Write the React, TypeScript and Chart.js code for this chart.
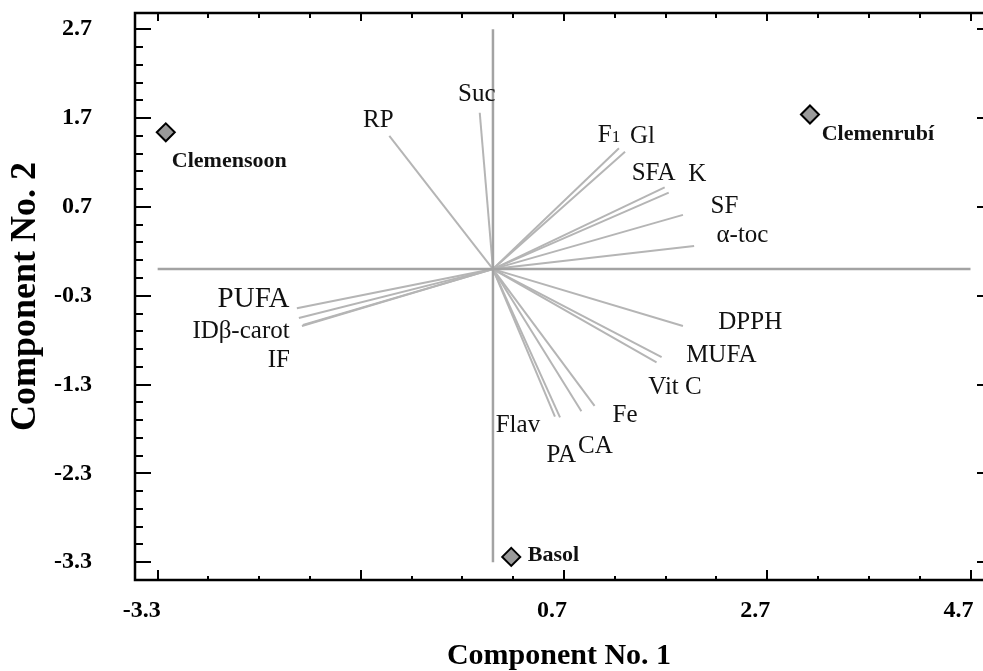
import React, { useEffect, useRef } from "react";
import { Chart, registerables } from "chart.js";

Chart.register(...registerables);

// ---------- data ----------
const variableNames = [
  "RP", "Suc", "F1", "Gl", "SFA", "K", "SF", "α-toc",
  "DPPH", "MUFA", "Vit C", "Fe", "CA", "PA", "Flav",
  "PUFA", "ID", "β-carot", "IF",
];
const loadingsX = [
  -1.02, -0.13, 1.24, 1.3, 1.69, 1.73, 1.87, 1.98,
  1.87, 1.66, 1.61, 1.0, 0.87, 0.66, 0.61,
  -1.93, -1.91, -1.87, -1.88,
];
const loadingsY = [
  1.5, 1.76, 1.36, 1.32, 0.92, 0.86, 0.61, 0.26,
  -0.64, -0.99, -1.05, -1.54, -1.6, -1.67, -1.66,
  -0.44, -0.55, -0.63, -0.64,
];

const sampleNames = ["Clemensoon", "Clemenrubí", "Basol"];
const sampleX = [-3.22, 3.12, 0.18];
const sampleY = [1.54, 1.74, -3.24];

const xTickValues = [-3.3, -1.3, 0.7, 2.7, 4.7];
const xTickLabels = ["-3.3", "", "0.7", "2.7", "4.7"];
const yTickValues = [-3.3, -2.3, -1.3, -0.3, 0.7, 1.7, 2.7];
const yTickLabels = ["-3.3", "-2.3", "-1.3", "-0.3", "0.7", "1.7", "2.7"];
const xMinorStep = 0.5;
const yMinorStep = 0.2;

const refLineXExtent = [-3.3, 4.7]; // horizontal line at y = 0
const refLineYExtent = [-3.3, 2.7]; // vertical line at x = 0

const X_MIN = -3.523;
const X_MAX = 4.823;
const Y_MIN = -3.5;
const Y_MAX = 2.883;

// ---------- label layout (pixel offsets from the anchor, baseline) ----------
type LabelLayout = { dx: number; dy: number; align: CanvasTextAlign; size?: number; smallTail?: number };
const variableLabelLayout: LabelLayout[] = [
  { dx: -11, dy: -9, align: "center" }, // RP
  { dx: -3, dy: -12, align: "center" }, // Suc
  { dx: -10, dy: -6, align: "center", smallTail: 17 }, // F1
  { dx: 17.5, dy: -8.4, align: "center" }, // Gl
  { dx: -11, dy: -7, align: "center" }, // SFA
  { dx: 28.5, dy: -11.3, align: "center" }, // K
  { dx: 41.5, dy: -2.3, align: "center" }, // SF
  { dx: 48.3, dy: -4, align: "center" }, // α-toc
  { dx: 67.3, dy: 2.6, align: "center" }, // DPPH
  { dx: 59.7, dy: 5, align: "center" }, // MUFA
  { dx: 18.5, dy: 31.6, align: "center" }, // Vit C
  { dx: 30.5, dy: 16, align: "center" }, // Fe
  { dx: 14, dy: 41.7, align: "center" }, // CA
  { dx: 1.3, dy: 44.4, align: "center" }, // PA
  { dx: -37, dy: 15.6, align: "center" }, // Flav
  { dx: -7.3, dy: -1.6, align: "right", size: 29 }, // PUFA
  { dx: -80, dy: 20, align: "right" }, // ID
  { dx: -13.3, dy: 13.3, align: "right" }, // β-carot
  { dx: -12, dy: 40.7, align: "right" }, // IF
];
const sampleLabelLayout = [
  { dx: 6, dy: 34.4 },
  { dx: 11.7, dy: 25 },
  { dx: 16.6, dy: 4.4 },
];

const SERIF = '"Liberation Serif", "Times New Roman", serif';

const labelPlugin = {
  id: "biplotLabels",
  afterDatasetsDraw(chart: any) {
    const { ctx, scales } = chart;
    const xs = scales.x;
    const ys = scales.y;
    ctx.save();
    ctx.fillStyle = "#111";
    ctx.textBaseline = "alphabetic";
    variableNames.forEach((name, i) => {
      const L = variableLabelLayout[i];
      const px = xs.getPixelForValue(loadingsX[i]) + L.dx;
      const py = ys.getPixelForValue(loadingsY[i]) + L.dy;
      const size = L.size ?? 25;
      if (L.smallTail) {
        const head = name.slice(0, -1);
        const tail = name.slice(-1);
        ctx.font = `${size}px ${SERIF}`;
        const w1 = ctx.measureText(head).width;
        ctx.font = `${L.smallTail}px ${SERIF}`;
        const w2 = ctx.measureText(tail).width;
        const gap = 0;
        const total = w1 + w2 + gap;
        const start = L.align === "center" ? px - total / 2 : L.align === "right" ? px - total : px;
        ctx.textAlign = "left";
        ctx.font = `${size}px ${SERIF}`;
        ctx.fillText(head, start, py);
        ctx.font = `${L.smallTail}px ${SERIF}`;
        ctx.fillText(tail, start + w1 + gap, py);
      } else {
        ctx.font = `${size}px ${SERIF}`;
        ctx.textAlign = L.align;
        ctx.fillText(name, px, py);
      }
    });
    ctx.font = `bold 22px ${SERIF}`;
    ctx.textAlign = "left";
    sampleNames.forEach((name, i) => {
      const L = sampleLabelLayout[i];
      const px = xs.getPixelForValue(sampleX[i]) + L.dx;
      const py = ys.getPixelForValue(sampleY[i]) + L.dy;
      ctx.fillText(name, px, py);
    });
    ctx.restore();
  },
};

const framePlugin = {
  id: "frameTicks",
  afterDraw(chart: any) {
    const { ctx, chartArea, scales } = chart;
    const { left, right, top, bottom } = chartArea;
    const xs = scales.x;
    const ys = scales.y;
    ctx.save();
    ctx.strokeStyle = "#000";
    ctx.lineWidth = 2.5;
    ctx.lineCap = "square";
    ctx.beginPath();
    ctx.moveTo(right, top);
    ctx.lineTo(left, top);
    ctx.lineTo(left, bottom);
    ctx.lineTo(right, bottom);
    ctx.stroke();

    ctx.lineWidth = 2;
    ctx.lineCap = "butt";
    ctx.beginPath();
    const x0 = xTickValues[0];
    const x1 = xTickValues[xTickValues.length - 1];
    const nx = Math.round((x1 - x0) / xMinorStep);
    for (let k = 0; k <= nx; k++) {
      const v = x0 + k * xMinorStep;
      const major = xTickValues.some((t) => Math.abs(t - v) < 1e-6);
      const p = Math.round(xs.getPixelForValue(v));
      ctx.moveTo(p, bottom);
      ctx.lineTo(p, bottom - (major ? 10 : 4));
      ctx.moveTo(p, top);
      ctx.lineTo(p, top + (major ? 8 : 5));
    }
    const y0 = yTickValues[0];
    const y1 = yTickValues[yTickValues.length - 1];
    const ny = Math.round((y1 - y0) / yMinorStep);
    for (let k = 0; k <= ny; k++) {
      const v = y0 + k * yMinorStep;
      const major = yTickValues.some((t) => Math.abs(t - v) < 1e-6);
      const p = Math.round(ys.getPixelForValue(v));
      ctx.moveTo(left, p);
      ctx.lineTo(left + (major ? 16 : 8), p);
      if (major) {
        ctx.moveTo(right, p);
        ctx.lineTo(right - 6, p);
      }
    }
    ctx.stroke();
    ctx.restore();
  },
};

const zeroPadding = (s: any) => {
  s.paddingLeft = 0;
  s.paddingRight = 0;
  s.paddingTop = 0;
  s.paddingBottom = 0;
};

export default function App() {
  const ref = useRef<HTMLCanvasElement>(null);
  useEffect(() => {
    const canvas = ref.current;
    if (!canvas) return;
    const lineDatasets = variableNames.map((name, i) => ({
      label: name,
      data: [
        { x: 0, y: 0 },
        { x: loadingsX[i], y: loadingsY[i] },
      ],
      showLine: true,
      borderColor: "#b5b5b5",
      borderWidth: 2,
      pointRadius: 0,
    }));
    const chart = new Chart(canvas, {
      type: "scatter",
      data: {
        datasets: [
          {
            label: "h",
            data: refLineXExtent.map((v) => ({ x: v, y: 0 })),
            showLine: true,
            borderColor: "#a3a3a3",
            borderWidth: 2.5,
            pointRadius: 0,
          },
          {
            label: "v",
            data: refLineYExtent.map((v) => ({ x: 0, y: v })),
            showLine: true,
            borderColor: "#a3a3a3",
            borderWidth: 2.5,
            pointRadius: 0,
          },
          ...lineDatasets,
          {
            label: "samples",
            data: sampleNames.map((_, i) => ({ x: sampleX[i], y: sampleY[i] })),
            pointStyle: "rectRot",
            pointRadius: 9,
            backgroundColor: "#9a9a9a",
            borderColor: "#000",
            borderWidth: 2,
          },
        ] as any,
      },
      options: {
        responsive: false,
        animation: false,
        events: [],
        layout: { autoPadding: false, padding: { top: 13, right: 0, bottom: 0, left: 0 } },
        plugins: { legend: { display: false }, tooltip: { enabled: false } },
        scales: {
          x: {
            type: "linear",
            min: X_MIN,
            max: X_MAX,
            position: "bottom",
            afterBuildTicks: (s: any) => {
              s.ticks = xTickValues.map((v) => ({ value: v }));
            },
            afterFit: (s: any) => {
              s.height = 91;
              zeroPadding(s);
            },
            grid: { display: false, drawTicks: false },
            border: { display: false },
            ticks: {
              autoSkip: false,
              maxRotation: 0,
              align: "end",
              labelOffset: 3,
              padding: 16,
              color: "#000",
              font: { family: SERIF, weight: "bold", size: 24 },
              callback: (_v: any, i: number) => xTickLabels[i],
            },
            title: {
              display: true,
              text: "Component No. 1",
              color: "#000",
              font: { family: SERIF, weight: "bold", size: 30, lineHeight: 1 },
              padding: { top: 0, bottom: 0 },
            },
          },
          y: {
            type: "linear",
            min: Y_MIN,
            max: Y_MAX,
            position: "left",
            afterBuildTicks: (s: any) => {
              s.ticks = yTickValues.map((v) => ({ value: v }));
            },
            afterFit: (s: any) => {
              s.width = 135;
              zeroPadding(s);
            },
            grid: { display: false, drawTicks: false },
            border: { display: false },
            ticks: {
              autoSkip: false,
              padding: 43,
              color: "#000",
              font: { family: SERIF, weight: "bold", size: 24 },
              callback: (_v: any, i: number) => yTickLabels[i],
            },
            title: {
              display: true,
              text: "Component No. 2",
              color: "#000",
              font: { family: SERIF, weight: "bold", size: 36, lineHeight: 1 },
              padding: { top: 8, bottom: 0 },
            },
          },
        },
      } as any,
      plugins: [labelPlugin, framePlugin],
    });
    return () => chart.destroy();
  }, []);
  return (
    <div style={{ position: "fixed", left: 0, top: 0, width: 983, height: 671, background: "#fff" }}>
      <canvas ref={ref} width={983} height={671} style={{ display: "block" }} />
    </div>
  );
}
